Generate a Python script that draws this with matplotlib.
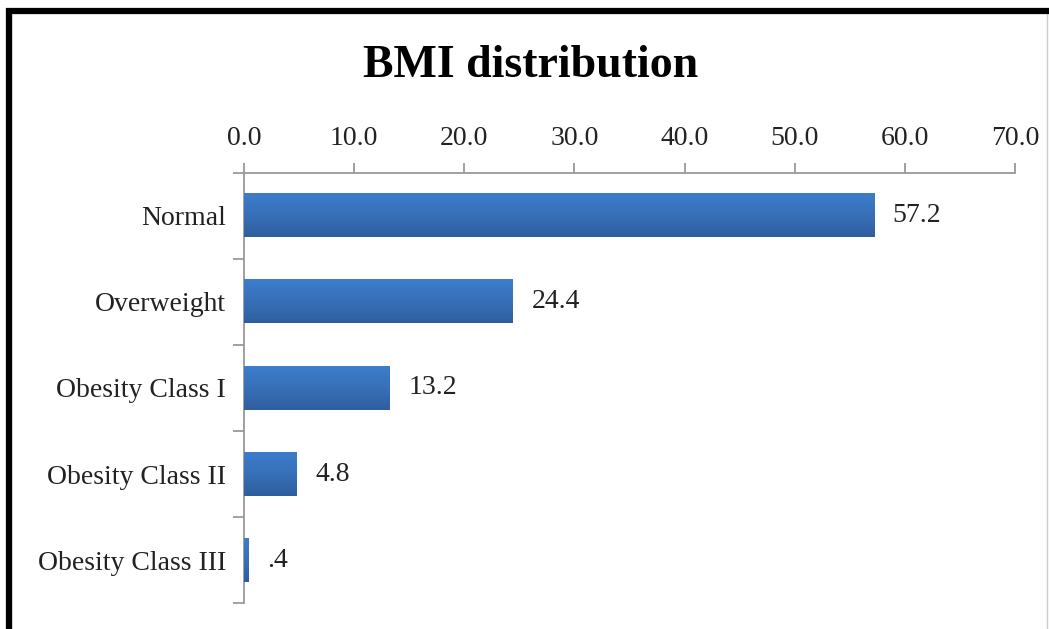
import matplotlib.pyplot as plt
import numpy as np
from matplotlib.patches import Rectangle
from matplotlib.colors import LinearSegmentedColormap

# BMI categories and percentages
categories = ['Normal', 'Overweight', 'Obesity Class I', 'Obesity Class II', 'Obesity Class III']
values = [57.2, 24.4, 13.2, 4.8, 0.4]
xticks = [0, 10, 20, 30, 40, 50, 60, 70]

plt.rcParams['font.family'] = ['Liberation Serif', 'DejaVu Serif']

fig = plt.figure(figsize=(10.49, 6.29), dpi=100)
ax = fig.add_axes([0.2326, 0.0413, 0.7350, 0.6837])

y = np.arange(len(categories))
bars = ax.barh(y, values, height=0.5, color='#3a72bd', edgecolor='none', zorder=3)

# soft vertical gradient on each bar, like the original
grad = LinearSegmentedColormap.from_list('bar', ['#3c7dcc', '#3770b8', '#2f5e9e'])
for bar in bars:
    x0, y0, w, h = bar.get_x(), bar.get_y(), bar.get_width(), bar.get_height()
    ax.imshow(np.linspace(0, 1, 64).reshape(-1, 1), cmap=grad, aspect='auto',
              extent=[x0, x0 + w, y0 + h, y0], origin='upper', zorder=4,
              interpolation='bilinear')
ax.set_aspect('auto')

ax.set_xlim(0, 70)
ax.set_ylim(len(categories) - 0.5, -0.5)

# x axis on top
ax.xaxis.tick_top()
ax.set_xticks(xticks)
ax.set_xticklabels([f'{t:.1f}' for t in xticks], fontsize=20, color='#222222')
ax.tick_params(axis='x', direction='out', length=7, width=1.3, color='#999999', pad=9)

# category labels centred, ticks at band boundaries
ax.set_yticks(y)
ax.set_yticklabels(categories, fontsize=20, color='#222222')
ax.set_yticks(np.arange(-0.5, len(categories)), minor=True)
ax.tick_params(axis='y', which='major', length=0, pad=13)
ax.tick_params(axis='y', which='minor', direction='out', length=8, width=1.3, color='#999999')

for side in ['right', 'bottom']:
    ax.spines[side].set_visible(False)
for side in ['top', 'left']:
    ax.spines[side].set_color('#999999')
    ax.spines[side].set_linewidth(1.3)

# value labels
for bar, v in zip(bars, values):
    txt = f'{v:.1f}' if v >= 1 else f'{v:.1f}'.lstrip('0')
    ax.text(bar.get_width() + 1.7, bar.get_y() + bar.get_height() / 2, txt,
            ha='left', va='center', fontsize=20, color='#222222')

fig.text(0.506, 0.895, 'BMI distribution', ha='center', va='center',
         fontsize=33, fontweight='bold', color='black')

# frame around the picture
fig.add_artist(Rectangle((0.0105, -0.01), 0.988, 0.995, transform=fig.transFigure,
                         fill=False, edgecolor='#cccccc', linewidth=1))
fig.add_artist(plt.Line2D([0.0057, 1.0], [0.9825, 0.9825], transform=fig.transFigure,
                          color='black', linewidth=4.5, solid_capstyle='butt'))
fig.add_artist(plt.Line2D([0.0086, 0.0086], [0.0, 0.987], transform=fig.transFigure,
                          color='black', linewidth=4.5, solid_capstyle='butt'))

fig.savefig('out.png', dpi=100)
